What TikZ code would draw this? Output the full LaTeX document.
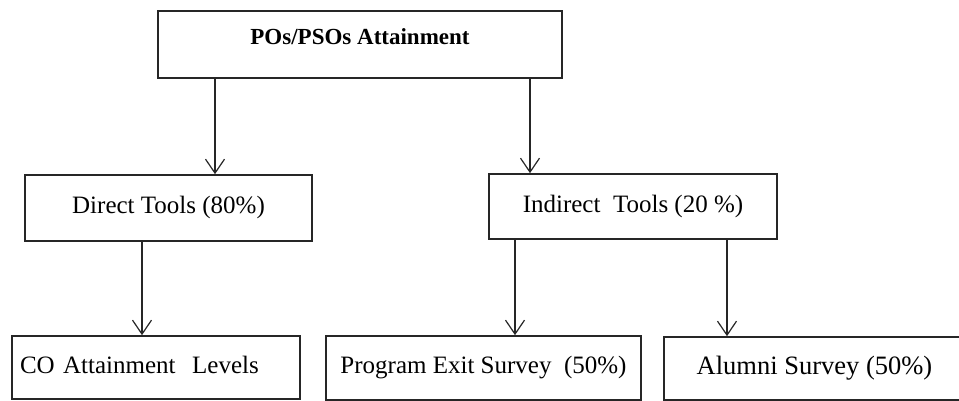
\documentclass[tikz,border=0pt]{standalone}
\usepackage{fontspec}
\setmainfont{Liberation Serif}
\usetikzlibrary{arrows.meta}
\begin{document}
\begin{tikzpicture}[x=1pt,y=-1pt,
  box/.style={draw=black!85, line width=1.6pt, inner sep=0pt, font=\fontsize{25}{28}\selectfont,
    text height=17pt, text depth=6pt},
  topbox/.style={draw=black!85, line width=2.6pt, inner sep=0pt, font=\fontsize{23}{26}\selectfont\bfseries,
    text height=34pt, text depth=33pt},
  arr/.style={draw=black!85, line width=1.2pt, -{Straight Barb[length=14pt,width=19pt,line width=1.2pt]}}]
\useasboundingbox (0,0) rectangle (959,401);
\node[topbox, minimum width=404pt] (top) at (360,44.5) {POs/PSOs Attainment};
\node[box, minimum width=287pt, minimum height=66pt] (direct) at (168.5,208) {Direct Tools (80\%)};
\node[box, minimum width=288pt, minimum height=65pt] (indirect) at (633,206.5) {Indirect\ \ Tools (20 \%)};
\node[box, minimum height=63pt, inner xsep=8pt, text width=272pt, align=left] (co) at (156,367.5) {CO Attainment\ \ Levels};
\node[box, minimum width=315pt, minimum height=64pt] (pes) at (483.5,368) {Program Exit Survey\ \ (50\%)};
\node[box, minimum width=301pt, minimum height=63pt, font=\fontsize{26.5}{29}\selectfont] (alumni) at (814.5,368.5) {Alumni Survey (50\%)};
\coordinate (c1) at (215,0);
\coordinate (c2) at (530,0);
\coordinate (c3) at (142,0);
\coordinate (c4) at (515,0);
\coordinate (c5) at (727,0);
\draw[arr] (top.south -| c1) -- (direct.north -| c1);
\draw[arr] (top.south -| c2) -- (indirect.north -| c2);
\draw[arr] (direct.south -| c3) -- (co.north -| c3);
\draw[arr] (indirect.south -| c4) -- (pes.north -| c4);
\draw[arr] (indirect.south -| c5) -- (alumni.north -| c5);
\end{tikzpicture}
\end{document}
